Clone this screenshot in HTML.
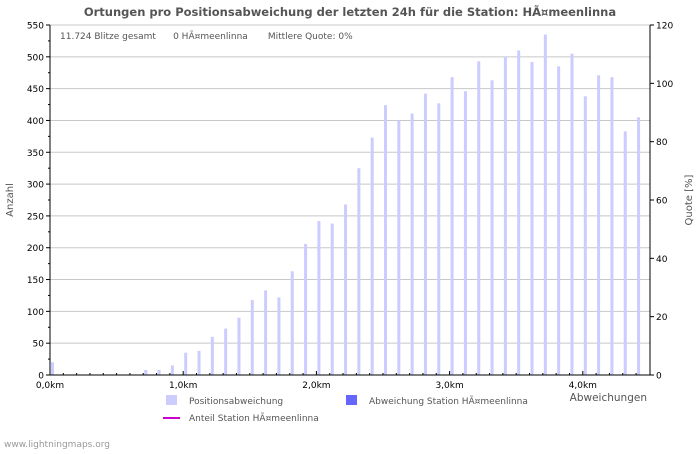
<!DOCTYPE html>
<html><head><meta charset="utf-8"><style>
body{margin:0;background:#fff;width:700px;height:450px;overflow:hidden;font-family:"DejaVu Sans","Liberation Sans",sans-serif}
</style></head><body>
<svg id="c" width="700" height="450" xmlns="http://www.w3.org/2000/svg" font-family="DejaVu Sans, Liberation Sans, sans-serif">
<text x="350" y="16" text-anchor="middle" font-size="11.5" font-weight="bold" fill="#555">Ortungen pro Positionsabweichung der letzten 24h für die Station: HÃ¤meenlinna</text>
<g id="grid"></g><g id="bars"></g><g id="axes"></g>
<text x="60" y="39" font-size="9" fill="#555">11.724 Blitze gesamt &#160;&#160;&#160;&#160; 0 HÃ¤meenlinna &#160;&#160;&#160;&#160;&#160; Mittlere Quote: 0%</text>
<text x="13" y="200" font-size="10" fill="#555" text-anchor="middle" transform="rotate(-90 13 200)">Anzahl</text>
<text x="692" y="200" font-size="10" fill="#555" text-anchor="middle" transform="rotate(-90 692 200)">Quote [%]</text>
<text x="647" y="401" font-size="10.5" fill="#555" text-anchor="end">Abweichungen</text>
<g><rect x="166" y="395" width="11" height="10" fill="#ccccff"/><text x="189" y="404" font-size="9" fill="#555">Positionsabweichung</text></g>
<g><rect x="346" y="395" width="11" height="10" fill="#6666ff"/><text x="369" y="404" font-size="9" fill="#555">Abweichung Station HÃ¤meenlinna</text></g>
<g><line x1="163" y1="418" x2="180" y2="418" stroke="#cc00cc" stroke-width="2"/><text x="189" y="421" font-size="9" fill="#555">Anteil Station HÃ¤meenlinna</text></g>
<text x="4" y="447" font-size="9" fill="#999">www.lightningmaps.org</text>
</svg>
<script>
const categories=[0.0,0.1,0.2,0.3,0.4,0.5,0.6,0.7,0.8,0.9,1.0,1.1,1.2,1.3,1.4,1.5,1.6,1.7,1.8,1.9,2.0,2.1,2.2,2.3,2.4,2.5,2.6,2.7,2.8,2.9,3.0,3.1,3.2,3.3,3.4,3.5,3.6,3.7,3.8,3.9,4.0,4.1,4.2,4.3,4.4];
const values=[20,0,0,0,0,0,0,8,8,15,35,38,60,73,90,118,133,122,163,206,242,238,268,325,373,424,400,411,442,427,468,446,493,463,500,510,492,535,485,505,438,471,468,383,405];
const stationValues=categories.map(()=>0);
const yTicks=[0,50,100,150,200,250,300,350,400,450,500,550];
const y2Ticks=[0,20,40,60,80,100,120];
const xTicks=[0,1,2,3,4];
const xTickLabels=["0,0km","1,0km","2,0km","3,0km","4,0km"];
const NS="http://www.w3.org/2000/svg";
const X0=50,X1=650,Y0=375,Y1=25;
const xS=v=>X0+v*133.2;
const yS=v=>Y0-(v/550)*(Y0-Y1);
const y2S=v=>Y0-(v/120)*(Y0-Y1);
function mk(p,t,a){const e=document.createElementNS(NS,t);for(const k in a)e.setAttribute(k,a[k]);p.appendChild(e);return e;}
const g=document.getElementById('grid'),b=document.getElementById('bars'),ax=document.getElementById('axes');
yTicks.forEach(t=>{
 const l=mk(g,'line',{x1:X0,x2:X1,y1:yS(t),y2:yS(t),stroke:'#c8c8c8','stroke-width':1});
 
 
 mk(ax,'line',{x1:X0-4,x2:X0,y1:yS(t),y2:yS(t),stroke:'#000'});
 if(t<550)mk(ax,'line',{x1:X0-2,x2:X0,y1:yS(t+25),y2:yS(t+25),stroke:'#000'});
 const tx=mk(ax,'text',{x:X0-6,y:yS(t)+3.5,'text-anchor':'end','font-size':9,fill:'#000'});tx.textContent=t;
 
 
});
y2Ticks.forEach(t=>{
 mk(ax,'line',{x1:X1,x2:X1+4,y1:y2S(t),y2:y2S(t),stroke:'#000'});
 const tx=mk(ax,'text',{x:X1+6,y:y2S(t)+3.5,'font-size':9,fill:'#000'});tx.textContent=t;
 
 
});
mk(ax,'line',{x1:X0,x2:X0,y1:Y1,y2:Y0,stroke:'#000'});
mk(ax,'line',{x1:X1,x2:X1,y1:Y1,y2:Y0,stroke:'#000'});
mk(ax,'line',{x1:X0,x2:X1,y1:Y0,y2:Y0,stroke:'#000'});
for(let i=0;i<=44;i++){const x=xS(i/10);mk(ax,'line',{x1:x,x2:x,y1:Y0,y2:Y0-(i%10==0?4:2),stroke:'#000'});}
xTicks.forEach((t,i)=>{const tx=mk(ax,'text',{x:xS(t),y:Y0+13,'text-anchor':'middle','font-size':9,fill:'#000'});tx.textContent=xTickLabels[i];
 
 });
categories.forEach((c,i)=>{
 const x=xS(c)+1;
 const r=mk(b,'rect',{x:x,y:yS(values[i]),width:3,height:Y0-yS(values[i]),fill:'#ccccff'});
 
 
 if(stationValues[i]>0){const s=mk(b,'rect',{x:x,y:yS(stationValues[i]),width:3,height:Y0-yS(stationValues[i]),fill:'#6666ff'});
 
 }
});
</script>
</body></html>
